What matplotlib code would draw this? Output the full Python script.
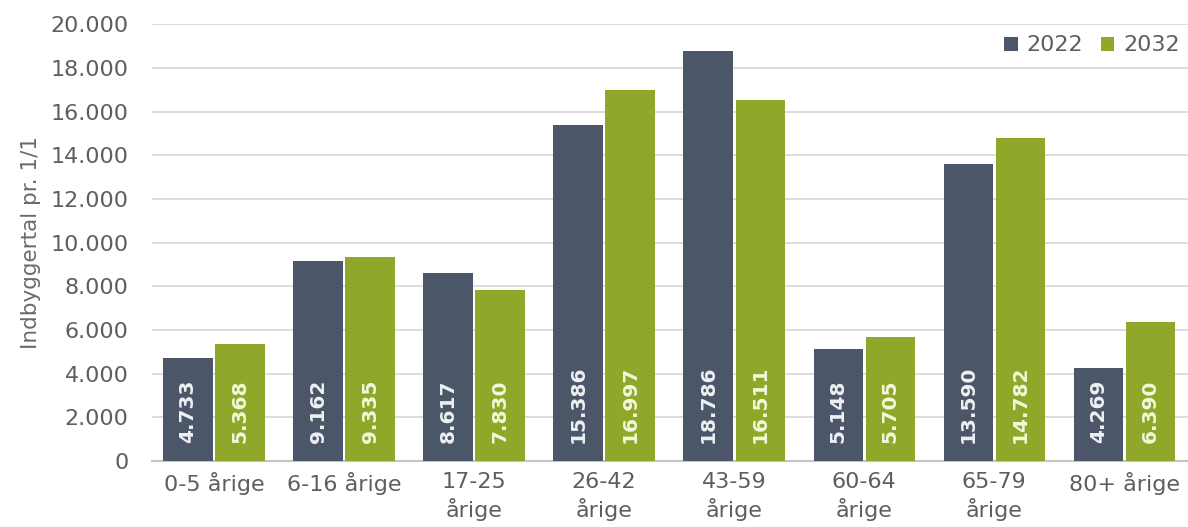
import matplotlib.pyplot as plt
import numpy as np
from matplotlib.ticker import FuncFormatter

# aldersgrupper og indbyggertal
categories = ["0-5 årige", "6-16 årige", "17-25\nårige", "26-42\nårige",
              "43-59\nårige", "60-64\nårige", "65-79\nårige", "80+ årige"]
pop_2022 = [4733, 9162, 8617, 15386, 18786, 5148, 13590, 4269]
pop_2032 = [5368, 9335, 7830, 16997, 16511, 5705, 14782, 6390]
series_names = ["2022", "2032"]

dark = "#4b5668"
green = "#8fa829"
grey_txt = "#5e5e5e"


def dk(v):
    return f"{int(round(v)):,}".replace(",", ".")


fig = plt.figure(figsize=(11.88, 5.27), dpi=100)
ax = fig.add_axes([0.128, 0.125, 0.872, 0.829])

x = np.arange(len(categories))
w = 0.38
off = 0.2

b1 = ax.bar(x - off, pop_2022, width=w, color=dark, label=series_names[0], zorder=3)
b2 = ax.bar(x + off, pop_2032, width=w, color=green, label=series_names[1], zorder=3)

# tal inde i søjlerne
for bars, vals, col in [(b1, pop_2022, "#eef0f3"), (b2, pop_2032, "#f4f8dc")]:
    for rect, v in zip(bars, vals):
        ax.annotate(dk(v), xy=(rect.get_x() + rect.get_width() / 2, 0),
                    xytext=(0, 13), textcoords="offset points",
                    rotation=90, ha="center", va="bottom",
                    fontsize=14.5, fontweight="bold", color=col, zorder=4)

ax.set_ylim(0, 20000)
ax.set_xlim(-0.477, 7.49)
ax.set_yticks(np.arange(0, 20001, 2000))
ax.yaxis.set_major_formatter(FuncFormatter(lambda v, p: dk(v)))
ax.set_xticks(x)
ax.set_xticklabels(categories, linespacing=1.3)

ax.grid(axis="y", color="#dadada", linewidth=1.3, zorder=0)
for s in ["top", "right", "left"]:
    ax.spines[s].set_visible(False)
ax.spines["bottom"].set_color("#c4c4c4")
ax.spines["bottom"].set_linewidth(1.5)
ax.spines["bottom"].set_zorder(2)

ax.tick_params(axis="y", length=0, pad=17, labelsize=16, labelcolor=grey_txt)
ax.tick_params(axis="x", length=0, pad=8, labelsize=16, labelcolor=grey_txt)

ax.set_ylabel("Indbyggertal pr. 1/1", fontsize=15.5, color="#6a6a6a")
ax.yaxis.set_label_coords(-0.107, 0.5)

ax.legend(loc="upper right", bbox_to_anchor=(1.005, 1.005), ncol=2, frameon=False,
          fontsize=16, handlelength=0.6, handleheight=0.6, handletextpad=0.4,
          columnspacing=0.8, labelcolor=grey_txt, borderaxespad=0.2)

fig.savefig("out.png", dpi=100)
